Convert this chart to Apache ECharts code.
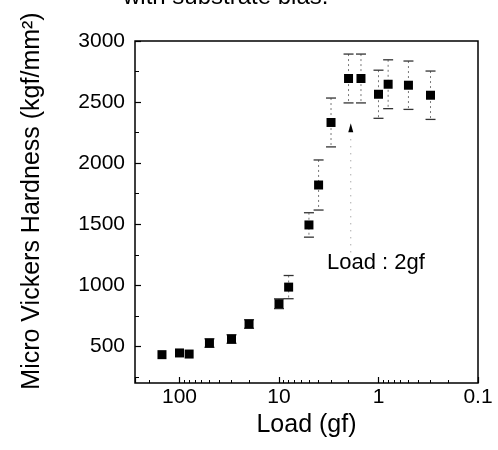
<!DOCTYPE html>
<html>
<head>
<meta charset="utf-8">
<script src="https://cdn.jsdelivr.net/npm/echarts@6/dist/echarts.min.js"></script>
<style>html,body{margin:0;padding:0;background:#fff}#c{width:498px;height:450px}</style>
</head>
<body>
<div id="c"></div>
<script>
// Data
const loads    = [150, 100, 80, 50, 30, 20, 10, 8, 5, 4, 3, 2, 1.5, 1, 0.8, 0.5, 0.3];
const hardness = [432, 446, 437, 527, 560, 683, 849, 985, 1494, 1821, 2333, 2693, 2693, 2564, 2646, 2638, 2556];
const errors   = [0, 0, 0, 35, 35, 35, 40, 95, 100, 205, 200, 200, 200, 197, 200, 198, 198];
const xTickLabels = ['0.1', '1', '10', '100'];
const xMinorTicks = [0.2,0.3,0.4,0.5,0.6,0.7,0.8,0.9,2,3,4,5,6,7,8,9,20,30,40,50,60,70,80,90,200];
const yTickLabels = [500, 1000, 1500, 2000, 2500, 3000];
const yMinorTicks = [250, 750, 1250, 1750, 2250, 2750];
const arrowLoad = 1.9, arrowTip = 2290, arrowLineTop = 2215, arrowLineBottom = 1270;
const annotation = 'Load : 2gf';
const topText = 'with substrate bias.';

const FONT = 'Liberation Sans, Arial, sans-serif';
const X_MIN = 0.1, X_MAX = 280;
const chart = echarts.init(document.getElementById('c'), null, {renderer: 'canvas'});

const pts = loads.map((l, i) => [l, hardness[i]]);
const errData = loads.map((l, i) => [l, hardness[i] - errors[i], hardness[i] + errors[i]]).filter((d, i) => errors[i] > 0);

function labelFor(v) {
  const l = Math.log10(v);
  if (Math.abs(l - Math.round(l)) < 1e-6) {
    const idx = Math.round(l) + 1;
    return xTickLabels[idx] !== undefined ? xTickLabels[idx] : '';
  }
  return '';
}

chart.setOption({
  animation: false,
  backgroundColor: '#fff',
  grid: {left: 135, right: 20, top: 41, bottom: 67, show: true, borderColor: '#000', borderWidth: 1.5, backgroundColor: 'transparent'},
  xAxis: [{
    type: 'log', logBase: 10, min: X_MIN, max: X_MAX, inverse: true,
    name: 'Load (gf)', nameLocation: 'middle', nameGap: 29,
    nameTextStyle: {fontFamily: FONT, fontSize: 25, color: '#000'},
    axisLine: {show: false, onZero: false},
    axisTick: {show: true, inside: true, length: 6, lineStyle: {color: '#000', width: 1.2}},
    axisLabel: {show: true, formatter: labelFor, fontFamily: FONT, fontSize: 21, color: '#000', margin: 4},
    splitLine: {show: false}
  }, {
    // helper axis in log10 space, only for the minor tick marks
    type: 'value', min: Math.log10(X_MIN), max: Math.log10(X_MAX), inverse: true, position: 'bottom',
    axisLine: {show: false, onZero: false},
    axisTick: {show: true, inside: true, length: 3, customValues: xMinorTicks.map(Math.log10), lineStyle: {color: '#000', width: 1}},
    axisLabel: {show: false},
    splitLine: {show: false}
  }],
  yAxis: [{
    type: 'value', min: 200, max: 3000, position: 'left',
    axisLine: {show: false, onZero: false},
    axisTick: {show: true, inside: true, length: 6, customValues: yTickLabels, lineStyle: {color: '#000', width: 1.2}},
    axisLabel: {customValues: yTickLabels, formatter: v => String(v), fontFamily: FONT, fontSize: 21, color: '#000', margin: 10},
    splitLine: {show: false}
  }, {
    type: 'value', min: 200, max: 3000, position: 'left',
    axisLine: {show: false, onZero: false},
    axisTick: {show: true, inside: true, length: 4, customValues: yMinorTicks, lineStyle: {color: '#000', width: 1}},
    axisLabel: {show: false},
    splitLine: {show: false}
  }],
  series: [{
    type: 'custom', xAxisIndex: 0, yAxisIndex: 0, z: 2,
    data: errData,
    encode: {x: 0, y: [1, 2]},
    renderItem: function (params, api) {
      const x = api.value(0);
      const pHi = api.coord([x, api.value(2)]);
      const pLo = api.coord([x, api.value(1)]);
      const h = 5;
      return {type: 'group', children: [
        {type: 'line', shape: {x1: pHi[0], y1: pHi[1], x2: pLo[0], y2: pLo[1]}, style: {stroke: '#777', lineWidth: 1, lineDash: [2, 3]}},
        {type: 'line', shape: {x1: pHi[0] - h, y1: pHi[1], x2: pHi[0] + h, y2: pHi[1]}, style: {stroke: '#333', lineWidth: 1.3}},
        {type: 'line', shape: {x1: pLo[0] - h, y1: pLo[1], x2: pLo[0] + h, y2: pLo[1]}, style: {stroke: '#333', lineWidth: 1.3}}
      ]};
    }
  }, {
    type: 'line', xAxisIndex: 0, yAxisIndex: 0, z: 2,
    data: [[arrowLoad, arrowLineBottom], [arrowLoad, arrowLineTop]],
    symbol: 'none', lineStyle: {color: '#888', width: 1, type: [1, 6]}
  }, {
    type: 'scatter', xAxisIndex: 0, yAxisIndex: 0, z: 3,
    data: [[arrowLoad, arrowTip]], symbol: 'triangle', symbolSize: [5, 9],
    itemStyle: {color: '#000', opacity: 1}
  }, {
    type: 'scatter', xAxisIndex: 0, yAxisIndex: 0, z: 4,
    data: pts, symbol: 'rect', symbolSize: 9,
    itemStyle: {color: '#000', opacity: 1}
  }],
  graphic: [{
    type: 'text', x: 32, y: 201, rotation: Math.PI / 2,
    style: {text: 'Micro Vickers Hardness (kgf/mm²)', fontFamily: FONT, fontSize: 25, fill: '#000', align: 'center', verticalAlign: 'middle'}
  }, {
    type: 'text', x: 327, y: 263,
    style: {text: annotation, fontFamily: FONT, fontSize: 22, fill: '#000', align: 'left', verticalAlign: 'middle'}
  }, {
    type: 'text', x: 123, y: 9,
    style: {text: topText, fontFamily: FONT, fontSize: 24, fill: '#000', align: 'left', verticalAlign: 'bottom'}
  }]
});
</script>
</body>
</html>
